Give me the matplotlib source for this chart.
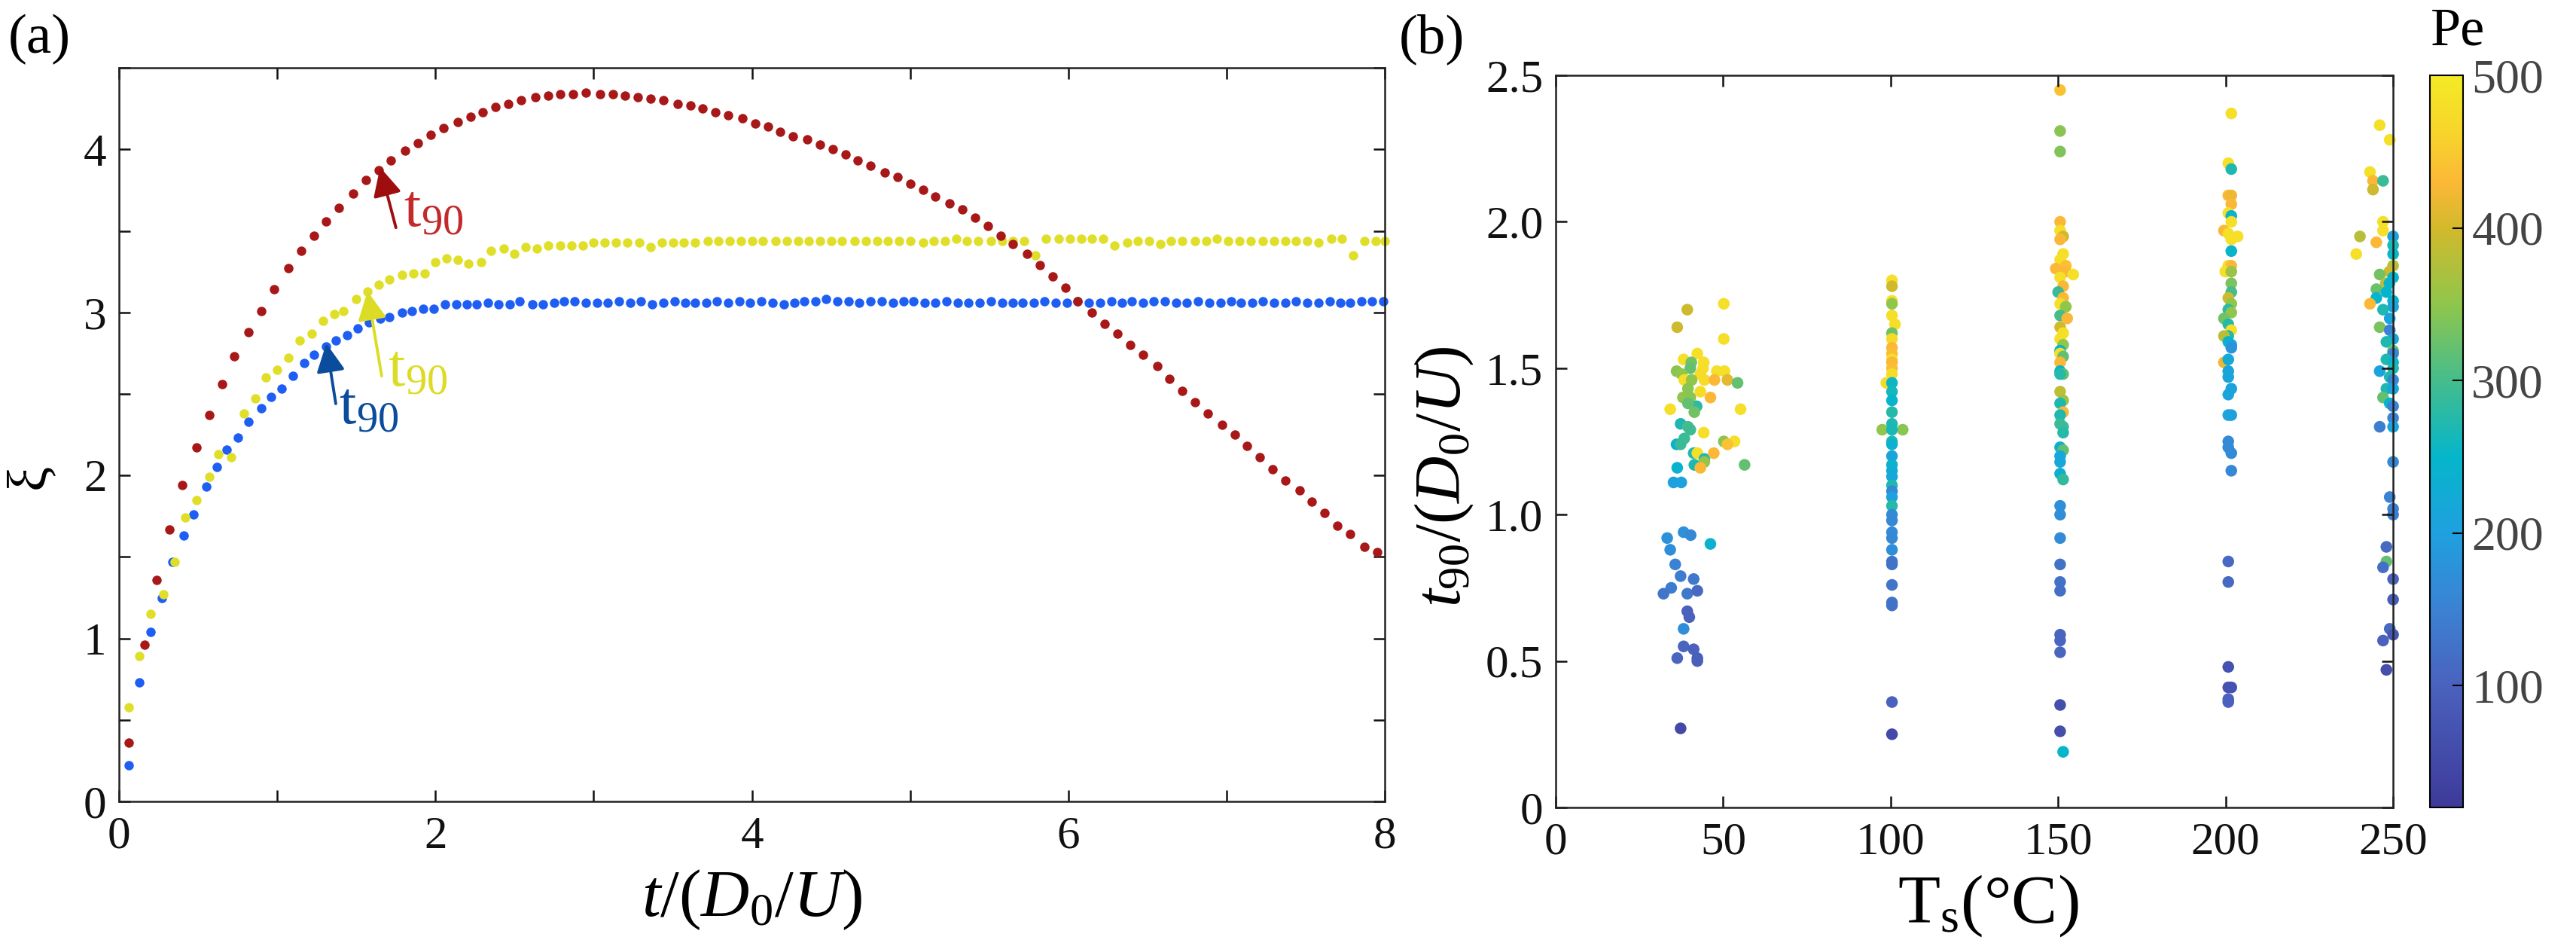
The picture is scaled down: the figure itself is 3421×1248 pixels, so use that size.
import numpy as np
import matplotlib
matplotlib.use('Agg')
from matplotlib import pyplot as plt
from matplotlib.colors import LinearSegmentedColormap

plt.rcParams['font.family'] = 'Liberation Serif'
plt.rcParams['mathtext.fontset'] = 'custom'
plt.rcParams['mathtext.rm'] = 'Liberation Serif'
plt.rcParams['mathtext.it'] = 'Liberation Serif:italic'

# ---------------- panel (a) data: xi vs t/(D0/U) ----------------
t_red = [0.06, 0.16, 0.24, 0.32, 0.40, 0.49, 0.57, 0.65, 0.73, 0.82,
         0.90, 0.98, 1.07, 1.15, 1.23, 1.31, 1.39, 1.48, 1.56, 1.64,
         1.72, 1.81, 1.89, 1.97, 2.05, 2.14, 2.22, 2.30, 2.38, 2.46,
         2.54, 2.63, 2.71, 2.79, 2.87, 2.95, 3.04, 3.12, 3.20, 3.28,
         3.36, 3.44, 3.53, 3.61, 3.69, 3.77, 3.85, 3.94, 4.02, 4.10,
         4.18, 4.26, 4.35, 4.43, 4.51, 4.59, 4.67, 4.75, 4.84, 4.92,
         5.00, 5.08, 5.16, 5.25, 5.33, 5.41, 5.49, 5.57, 5.65, 5.74,
         5.82, 5.90, 5.98, 6.06, 6.15, 6.23, 6.31, 6.39, 6.47, 6.56,
         6.64, 6.72, 6.80, 6.88, 6.97, 7.05, 7.13, 7.21, 7.29, 7.37,
         7.46, 7.54, 7.62, 7.70, 7.78, 7.87, 7.95]
xi_red = [0.36, 0.96, 1.36, 1.67, 1.94, 2.17, 2.37, 2.56, 2.73, 2.88,
          3.01, 3.14, 3.27, 3.38, 3.47, 3.56, 3.64, 3.73, 3.81, 3.87,
          3.93, 3.99, 4.04, 4.09, 4.13, 4.17, 4.20, 4.23, 4.26, 4.28,
          4.30, 4.32, 4.33, 4.34, 4.34, 4.35, 4.34, 4.34, 4.33, 4.32,
          4.31, 4.30, 4.28, 4.27, 4.25, 4.23, 4.21, 4.19, 4.16, 4.14,
          4.11, 4.08, 4.06, 4.03, 4.00, 3.97, 3.93, 3.90, 3.86, 3.83,
          3.79, 3.75, 3.71, 3.67, 3.63, 3.58, 3.53, 3.47, 3.42, 3.36,
          3.29, 3.22, 3.15, 3.07, 3.00, 2.93, 2.87, 2.80, 2.74, 2.67,
          2.59, 2.52, 2.45, 2.38, 2.31, 2.25, 2.18, 2.11, 2.04, 1.97,
          1.91, 1.84, 1.77, 1.69, 1.64, 1.56, 1.53]

t_blue = [0.06, 0.13, 0.20, 0.27, 0.34, 0.41, 0.47, 0.55, 0.62, 0.68,
          0.75, 0.82, 0.90, 0.96, 1.03, 1.10, 1.17, 1.23, 1.31, 1.37,
          1.44, 1.51, 1.58, 1.65, 1.71, 1.79, 1.85, 1.92, 1.99, 2.06,
          2.13, 2.20, 2.26, 2.33, 2.40, 2.47, 2.53, 2.61, 2.68, 2.75,
          2.81, 2.88, 2.95, 3.02, 3.09, 3.16, 3.23, 3.30, 3.37, 3.44,
          3.51, 3.58, 3.64, 3.71, 3.78, 3.85, 3.92, 3.99, 4.06, 4.13,
          4.20, 4.27, 4.33, 4.40, 4.47, 4.54, 4.61, 4.68, 4.75, 4.82,
          4.89, 4.96, 5.02, 5.09, 5.16, 5.23, 5.30, 5.37, 5.44, 5.51,
          5.58, 5.65, 5.71, 5.78, 5.85, 5.92, 5.99, 6.06, 6.13, 6.20,
          6.27, 6.34, 6.40, 6.47, 6.54, 6.61, 6.68, 6.75, 6.82, 6.89,
          6.96, 7.03, 7.09, 7.16, 7.23, 7.30, 7.37, 7.44, 7.51, 7.58,
          7.65, 7.72, 7.78, 7.85, 7.92, 7.99]
xi_blue = [0.22, 0.73, 1.04, 1.25, 1.47, 1.63, 1.76, 1.93, 2.05, 2.16,
           2.23, 2.33, 2.41, 2.48, 2.53, 2.61, 2.69, 2.74, 2.79, 2.83,
           2.86, 2.90, 2.94, 2.96, 2.97, 3.00, 3.01, 3.02, 3.02, 3.05,
           3.05, 3.05, 3.05, 3.06, 3.05, 3.05, 3.07, 3.05, 3.05, 3.06,
           3.07, 3.07, 3.06, 3.06, 3.06, 3.07, 3.06, 3.07, 3.05, 3.06,
           3.07, 3.06, 3.06, 3.06, 3.07, 3.06, 3.07, 3.06, 3.07, 3.06,
           3.05, 3.06, 3.07, 3.07, 3.08, 3.07, 3.07, 3.06, 3.07, 3.07,
           3.06, 3.07, 3.07, 3.06, 3.06, 3.07, 3.06, 3.06, 3.06, 3.07,
           3.06, 3.06, 3.06, 3.06, 3.07, 3.06, 3.06, 3.07, 3.06, 3.06,
           3.07, 3.06, 3.07, 3.06, 3.07, 3.07, 3.06, 3.06, 3.07, 3.06,
           3.06, 3.07, 3.06, 3.06, 3.07, 3.06, 3.06, 3.07, 3.06, 3.06,
           3.07, 3.06, 3.06, 3.07, 3.07, 3.07]

t_yel = [0.06, 0.13, 0.20, 0.28, 0.35, 0.42, 0.49, 0.57, 0.63, 0.71,
         0.79, 0.86, 0.93, 1.00, 1.07, 1.14, 1.22, 1.29, 1.36, 1.42,
         1.50, 1.57, 1.64, 1.71, 1.79, 1.86, 1.93, 2.00, 2.07, 2.14,
         2.21, 2.29, 2.35, 2.43, 2.50, 2.57, 2.64, 2.71, 2.79, 2.86,
         2.93, 3.00, 3.07, 3.14, 3.21, 3.29, 3.36, 3.43, 3.50, 3.57,
         3.64, 3.72, 3.79, 3.86, 3.93, 4.00, 4.07, 4.15, 4.22, 4.29,
         4.36, 4.43, 4.50, 4.57, 4.65, 4.72, 4.79, 4.86, 4.93, 5.00,
         5.08, 5.15, 5.22, 5.29, 5.36, 5.43, 5.51, 5.58, 5.65, 5.72,
         5.79, 5.86, 5.94, 6.01, 6.08, 6.15, 6.22, 6.29, 6.37, 6.44,
         6.51, 6.58, 6.65, 6.72, 6.80, 6.87, 6.94, 7.01, 7.08, 7.15,
         7.23, 7.30, 7.37, 7.44, 7.51, 7.58, 7.66, 7.73, 7.80, 7.87,
         7.94, 8.00]
xi_yel = [0.58, 0.89, 1.15, 1.27, 1.47, 1.74, 1.85, 1.99, 2.13, 2.11,
          2.38, 2.47, 2.60, 2.65, 2.72, 2.83, 2.87, 2.95, 2.99, 3.01,
          3.08, 3.13, 3.17, 3.20, 3.23, 3.24, 3.24, 3.31, 3.33, 3.32,
          3.30, 3.31, 3.38, 3.39, 3.36, 3.40, 3.39, 3.41, 3.41, 3.41,
          3.41, 3.43, 3.43, 3.43, 3.43, 3.43, 3.40, 3.43, 3.43, 3.43,
          3.43, 3.44, 3.44, 3.44, 3.44, 3.44, 3.44, 3.44, 3.44, 3.44,
          3.44, 3.44, 3.44, 3.44, 3.44, 3.44, 3.44, 3.44, 3.44, 3.44,
          3.43, 3.44, 3.44, 3.45, 3.44, 3.44, 3.44, 3.44, 3.44, 3.44,
          3.35, 3.45, 3.45, 3.45, 3.45, 3.45, 3.45, 3.41, 3.43, 3.44,
          3.44, 3.42, 3.44, 3.44, 3.44, 3.44, 3.45, 3.44, 3.44, 3.44,
          3.44, 3.44, 3.44, 3.44, 3.44, 3.43, 3.45, 3.45, 3.35, 3.44,
          3.44, 3.44]

# t90 markers: (arrow head, arrow tail, label position)
t90_red = [(1.65, 3.89), (1.75, 3.52), (1.80, 3.62)]
t90_yel = [(1.57, 3.13), (1.66, 2.61), (1.70, 2.64)]
t90_blue = [(1.31, 2.81), (1.37, 2.44), (1.39, 2.41)]

# ---------------- panel (b) data: t90/(D0/U) vs Ts, coloured by Pe ----------------
ts_40 = [39.3, 50.2, 36.3, 50.2, 42.3, 38.2, 40.5, 44.2, 40.2, 36.1,
         44.0, 43.2, 48.1, 50.4, 37.6, 38.4, 40.6, 44.4, 47.4, 51.3,
         54.3, 39.5, 43.2, 38.0, 40.2, 46.2, 34.2, 42.1, 39.5, 41.4,
         55.2, 37.3, 39.5, 40.2, 44.2, 38.4, 36.1, 37.3, 50.2, 53.4,
         51.3, 41.2, 42.3, 44.4, 44.4, 47.2, 41.4, 43.2, 36.3, 56.4,
         35.2, 37.5, 33.3, 38.2, 40.3, 46.2, 34.2, 35.7, 37.3, 41.2,
         34.5, 32.2, 39.3, 42.3, 39.3, 39.9, 38.2, 38.2, 41.2, 36.3,
         42.3, 42.3, 37.3]
t90_40 = [1.70, 1.72, 1.64, 1.60, 1.55, 1.53, 1.52, 1.52, 1.50, 1.49,
          1.50, 1.48, 1.49, 1.49, 1.48, 1.46, 1.46, 1.46, 1.46, 1.46,
          1.45, 1.43, 1.42, 1.40, 1.40, 1.40, 1.36, 1.37, 1.38, 1.35,
          1.36, 1.31, 1.30, 1.29, 1.28, 1.26, 1.24, 1.24, 1.25, 1.25,
          1.24, 1.21, 1.21, 1.19, 1.18, 1.21, 1.17, 1.16, 1.16, 1.17,
          1.11, 1.11, 0.92, 0.94, 0.93, 0.90, 0.88, 0.83, 0.79, 0.78,
          0.75, 0.73, 0.73, 0.74, 0.67, 0.65, 0.61, 0.55, 0.54, 0.51,
          0.51, 0.50, 0.27]
pe_40 = [395, 480, 395, 480, 480, 480, 330, 480, 320, 345,
         480, 475, 480, 480, 350, 480, 350, 475, 430, 410,
         320, 345, 475, 350, 345, 430, 480, 280, 320, 330,
         480, 270, 300, 295, 480, 290, 240, 290, 345, 480,
         440, 270, 480, 265, 355, 430, 270, 430, 240, 320,
         200, 205, 175, 175, 160, 240, 170, 150, 140, 135,
         140, 130, 135, 110, 100, 100, 170, 105, 100, 105,
         95, 95, 50]

ts_100 = [100.4, 100.4, 100.4, 100.4, 100.4, 101.3, 100.4, 100.4, 100.4, 100.4,
          100.4, 100.4, 100.4, 100.4, 98.7, 100.4, 100.4, 100.4, 100.4, 100.4,
          97.5, 103.6, 100.4, 100.4, 100.4, 100.4, 100.4, 100.4, 100.4, 100.4,
          100.4, 100.4, 100.4, 100.4, 100.4, 100.4, 100.4, 100.4, 100.4, 100.4,
          100.4, 100.4, 100.4, 100.4, 100.4]
t90_100 = [1.80, 1.78, 1.73, 1.72, 1.68, 1.65, 1.62, 1.60, 1.57, 1.55,
           1.53, 1.52, 1.50, 1.48, 1.45, 1.45, 1.42, 1.39, 1.35, 1.31,
           1.29, 1.29, 1.29, 1.25, 1.24, 1.20, 1.17, 1.15, 1.13, 1.10,
           1.08, 1.06, 1.03, 1.00, 0.98, 0.94, 0.92, 0.88, 0.84, 0.83,
           0.76, 0.70, 0.69, 0.36, 0.25]
pe_100 = [480, 400, 480, 350, 480, 480, 330, 470, 430, 435,
          480, 430, 435, 475, 470, 255, 260, 245, 275, 270,
          350, 345, 265, 270, 240, 210, 240, 225, 215, 270,
          160, 200, 275, 165, 160, 165, 160, 170, 130, 125,
          130, 130, 125, 100, 50]

ts_150 = [150.6, 150.6, 150.6, 150.6, 150.6, 151.5, 150.6, 151.5, 150.6, 152.3,
          149.3, 152.3, 154.5, 150.6, 151.5, 150.0, 151.5, 150.6, 152.3, 150.6,
          152.7, 150.6, 151.5, 150.6, 151.5, 150.6, 150.6, 151.5, 150.6, 150.6,
          151.5, 150.6, 150.6, 151.5, 150.6, 151.5, 150.6, 150.6, 151.5, 151.5,
          150.6, 151.5, 150.6, 150.6, 150.6, 151.5, 150.6, 150.6, 150.6, 150.6,
          150.6, 150.6, 150.6, 150.6, 150.6, 150.6, 150.6, 151.5]
t90_150 = [2.45, 2.31, 2.24, 2.00, 1.97, 1.95, 1.94, 1.89, 1.87, 1.85,
           1.84, 1.83, 1.82, 1.81, 1.78, 1.76, 1.74, 1.72, 1.71, 1.68,
           1.67, 1.64, 1.62, 1.60, 1.58, 1.56, 1.55, 1.54, 1.52, 1.49,
           1.48, 1.48, 1.42, 1.39, 1.38, 1.35, 1.34, 1.31, 1.30, 1.28,
           1.23, 1.22, 1.20, 1.18, 1.14, 1.12, 1.03, 1.00, 0.92, 0.83,
           0.77, 0.74, 0.59, 0.57, 0.53, 0.35, 0.26, 0.19]
pe_150 = [440, 345, 340, 430, 480, 400, 430, 480, 480, 440,
          430, 430, 480, 480, 430, 290, 430, 480, 350, 300,
          430, 400, 480, 480, 350, 250, 480, 320, 430, 250,
          320, 275, 385, 360, 270, 430, 270, 290, 290, 275,
          235, 320, 215, 215, 235, 285, 170, 170, 165, 125,
          125, 120, 105, 105, 105, 60, 60, 250]

ts_200 = [201.7, 200.8, 201.7, 200.8, 201.7, 201.7, 200.8, 201.7, 201.7, 199.5,
          200.8, 203.6, 201.7, 201.7, 200.8, 201.7, 199.9, 201.7, 201.7, 201.7,
          200.8, 201.7, 200.8, 201.7, 199.5, 200.8, 201.7, 200.8, 199.5, 200.8,
          201.7, 201.7, 199.5, 200.8, 200.8, 200.8, 201.7, 200.8, 201.7, 200.8,
          200.8, 200.8, 201.7, 201.7, 200.8, 200.8, 200.8, 200.8, 201.7, 200.8,
          200.8]
t90_200 = [2.37, 2.20, 2.18, 2.09, 2.09, 2.06, 2.03, 2.02, 2.00, 1.97,
           1.96, 1.95, 1.94, 1.90, 1.85, 1.85, 1.83, 1.83, 1.79, 1.76,
           1.74, 1.72, 1.70, 1.69, 1.67, 1.65, 1.63, 1.61, 1.61, 1.59,
           1.58, 1.57, 1.52, 1.53, 1.49, 1.47, 1.43, 1.41, 1.34, 1.34,
           1.25, 1.23, 1.21, 1.15, 0.84, 0.77, 0.48, 0.41, 0.41, 0.37,
           0.36]
pe_200 = [480, 480, 270, 430, 420, 430, 480, 245, 480, 430,
          480, 480, 480, 245, 480, 430, 480, 360, 335, 300,
          395, 350, 280, 350, 330, 275, 480, 275, 380, 245,
          215, 180, 420, 220, 210, 210, 210, 210, 205, 205,
          165, 165, 165, 160, 110, 110, 70, 70, 70, 100,
          100]

ts_250 = [246.0, 249.0, 243.1, 244.0, 247.0, 244.0, 247.0, 247.0, 240.1, 245.0,
          239.0, 250.0, 250.0, 250.0, 250.0, 248.9, 246.0, 250.0, 247.8, 245.0,
          248.9, 248.0, 245.0, 250.0, 243.1, 250.0, 247.0, 249.0, 246.0, 249.0,
          250.0, 248.0, 250.0, 250.0, 248.0, 250.0, 250.0, 246.0, 249.0, 250.0,
          248.0, 250.0, 247.0, 249.0, 250.0, 250.0, 246.0, 250.0, 250.0, 249.0,
          250.0, 250.0, 248.0, 248.0, 247.0, 250.0, 250.0, 249.0, 250.0, 247.0,
          248.0]
t90_250 = [2.33, 2.28, 2.17, 2.14, 2.14, 2.11, 2.00, 1.97, 1.95, 1.93,
           1.89, 1.95, 1.92, 1.89, 1.85, 1.83, 1.82, 1.81, 1.79, 1.77,
           1.79, 1.76, 1.74, 1.73, 1.72, 1.71, 1.70, 1.67, 1.64, 1.63,
           1.60, 1.59, 1.56, 1.55, 1.53, 1.52, 1.50, 1.49, 1.47, 1.46,
           1.43, 1.43, 1.40, 1.38, 1.37, 1.33, 1.30, 1.30, 1.18, 1.06,
           1.02, 1.00, 0.89, 0.84, 0.82, 0.78, 0.71, 0.61, 0.59, 0.57,
           0.47]
pe_250 = [480, 480, 480, 430, 290, 395, 480, 480, 380, 430,
          480, 210, 265, 255, 380, 395, 330, 245, 385, 325,
          245, 245, 245, 245, 430, 210, 270, 210, 335, 150,
          210, 270, 320, 150, 270, 245, 270, 210, 270, 160,
          270, 210, 320, 245, 150, 150, 145, 210, 160, 150,
          150, 140, 110, 320, 120, 100, 90, 110, 75, 100,
          60]

pe_ticks = [100, 200, 300, 400, 500]

# parula-like map
parula_like = LinearSegmentedColormap.from_list('parula_like', [
    (0.000, '#3e3a9a'), (0.167, '#4a62bd'), (0.271, '#3b82d3'),
    (0.375, '#1fa0df'), (0.479, '#05b6ca'), (0.583, '#45bc8c'),
    (0.688, '#8fc64c'), (0.792, '#d2b92c'), (0.854, '#fbb836'),
    (0.927, '#f7d62b'), (1.000, '#f3ea24')])

RED = '#a81818'
YEL = '#dfdf2a'
BLUE = '#1f5ef2'

fig = plt.figure(figsize=(34.21, 12.48), dpi=100)
ax1 = fig.add_axes([0.0462, 0.1474, 0.4914, 0.7804])
ax2 = fig.add_axes([0.6039, 0.141, 0.3251, 0.7788])
cax = fig.add_axes([0.9433, 0.141, 0.0129, 0.7788])

# ---- (a)
ax1.plot(t_blue, xi_blue, 'o', color=BLUE, ms=9, mew=0, clip_on=False)
ax1.plot(t_yel, xi_yel, 'o', color=YEL, ms=9, mew=0, clip_on=False)
ax1.plot(t_red, xi_red, 'o', color=RED, ms=9, mew=0, clip_on=False)

for (head, tail, lab), c_arrow, c_text in [(t90_red, '#9e0e0e', '#c22a2d'),
                                           (t90_yel, '#dcdc26', '#dcdc26'),
                                           (t90_blue, '#0c4c9c', '#0c4c9c')]:
    ax1.annotate('', xy=head, xytext=tail,
                 arrowprops=dict(arrowstyle='-|>', color=c_arrow, lw=2.8,
                                 mutation_scale=58, shrinkA=0, shrinkB=0))
    ax1.text(lab[0], lab[1], r'$\mathregular{t_{90}}$', color=c_text,
             fontsize=58, ha='left', va='center')

ax1.set_xlim(0, 8)
ax1.set_ylim(0, 4.5)
ax1.set_xticks(np.arange(0, 9, 1))
ax1.set_xticklabels(['0', '', '2', '', '4', '', '6', '', '8'])
ax1.set_yticks(np.arange(0, 4.6, 0.5))
ax1.set_yticklabels(['0', '', '1', '', '2', '', '3', '', '4', ''])
ax1.set_xlabel(r'$t/(D_0/U)$', fontsize=64)
ax1.set_ylabel('ξ', fontsize=54)
ax1.xaxis.set_label_coords(0.50, -0.09)
ax1.yaxis.set_label_coords(-0.05, 0.443)

# ---- (b)
for ts, tv, pe in [(ts_40, t90_40, pe_40), (ts_100, t90_100, pe_100),
                   (ts_150, t90_150, pe_150), (ts_200, t90_200, pe_200),
                   (ts_250, t90_250, pe_250)]:
    sc = ax2.scatter(ts, tv, c=pe, cmap=parula_like, vmin=20, vmax=500,
                     s=125, linewidths=0, clip_on=False)

ax2.set_xlim(0, 250)
ax2.set_ylim(0, 2.5)
ax2.set_xticks([0, 50, 100, 150, 200, 250])
ax2.set_yticks([0, 0.5, 1.0, 1.5, 2.0, 2.5])
ax2.set_yticklabels(['0', '0.5', '1.0', '1.5', '2.0', '2.5'])
ax2.set_xlabel(r'T$_\mathregular{s}$(°C)', fontsize=66)
ax2.set_ylabel(r'$t_{90}/(D_0/U)$', fontsize=62)
ax2.xaxis.set_label_coords(0.516, -0.09)
ax2.yaxis.set_label_coords(-0.095, 0.452)

for ax in (ax1, ax2):
    ax.tick_params(direction='in', top=True, right=True, length=11, width=1.8,
                   labelsize=44, colors='#111111')
    ax.tick_params(axis='x', pad=14)
    ax.tick_params(axis='y', pad=12)
    for sp in ax.spines.values():
        sp.set_linewidth(1.8)
        sp.set_color('#222222')

cb = fig.colorbar(sc, cax=cax, ticks=pe_ticks)
cb.outline.set_linewidth(1.5)
cb.ax.tick_params(direction='in', length=10, width=1.5, labelsize=46,
                  labelcolor='#444444', pad=8)
fig.text(0.954, 0.966, 'Pe', fontsize=52, ha='center', va='center')

fig.text(0.003, 0.985, '(a)', fontsize=54, ha='left', va='top')
fig.text(0.543, 0.985, '(b)', fontsize=54, ha='left', va='top')

fig.savefig('out.png', dpi=100)
